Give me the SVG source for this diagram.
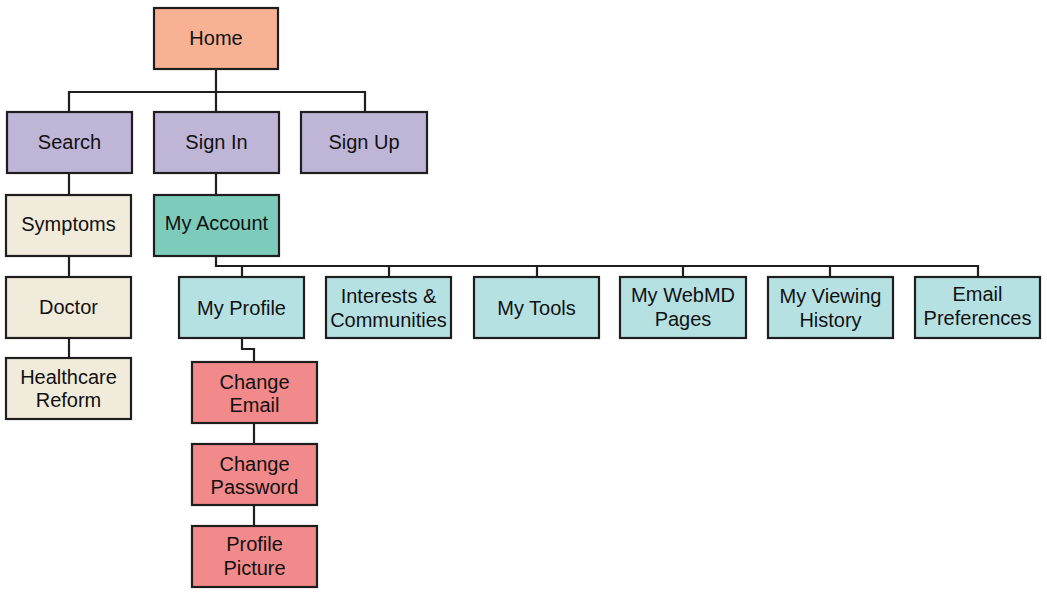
<svg xmlns="http://www.w3.org/2000/svg" width="1047" height="592" viewBox="0 0 1047 592">
<style>
rect{stroke:#1e1e1e;stroke-width:2.2}
text{font-family:"Liberation Sans",Arial,sans-serif;font-size:20px;fill:#111;text-anchor:middle}
.home{fill:#F7B294}.pur{fill:#BFB5D7}.acc{fill:#7CCBBB}.cre{fill:#F0EBDB}.cy{fill:#B6E1E3}.pk{fill:#F2898A}
#connectors path{fill:none;stroke:#1e1e1e;stroke-width:2.2}
</style>
<rect width="1047" height="592" fill="#fff" style="stroke:none"/>
<g id="connectors">
<path d="M216 69V92M69 112V92H365V112M216 92V112"/>
<path d="M216 173V195M69 173V195M69 256V277M69 338V358"/>
<path d="M216 256V266H978V277M242 266V277M389 266V277M537 266V277M683 266V277M830 266V277"/>
<path d="M242 339V349H254V362M254 423V444M254 505V526"/>
</g>
<g id="home"><rect class="home" x="154" y="8" width="124" height="61"/><text x="216" y="45">Home</text></g>
<g id="search"><rect class="pur" x="7" y="112" width="125" height="61"/><text x="69.5" y="149">Search</text></g>
<g id="signin"><rect class="pur" x="154" y="112" width="125" height="61"/><text x="216.5" y="149">Sign In</text></g>
<g id="signup"><rect class="pur" x="301" y="112" width="126" height="61"/><text x="364" y="149">Sign Up</text></g>
<g id="symptoms"><rect class="cre" x="6" y="195" width="125" height="61"/><text x="68.5" y="231">Symptoms</text></g>
<g id="myaccount"><rect class="acc" x="154" y="195" width="125" height="61"/><text x="216.5" y="230">My Account</text></g>
<g id="doctor"><rect class="cre" x="6" y="277" width="125" height="61"/><text x="68.5" y="314">Doctor</text></g>
<g id="healthcare"><rect class="cre" x="6" y="358" width="125" height="61"/><text x="68.5" y="384">Healthcare</text><text x="68.5" y="407">Reform</text></g>
<g id="myprofile"><rect class="cy" x="179" y="277" width="125" height="61"/><text x="241.5" y="315">My Profile</text></g>
<g id="interests"><rect class="cy" x="326" y="277" width="125" height="61"/><text x="388.5" y="303">Interests &amp;</text><text x="388.5" y="327">Communities</text></g>
<g id="mytools"><rect class="cy" x="474" y="277" width="125" height="61"/><text x="536.5" y="315">My Tools</text></g>
<g id="webmd"><rect class="cy" x="620" y="277" width="126" height="61"/><text x="683" y="302">My WebMD</text><text x="683" y="326">Pages</text></g>
<g id="viewing"><rect class="cy" x="768" y="277" width="125" height="61"/><text x="830.5" y="303">My Viewing</text><text x="830.5" y="327">History</text></g>
<g id="emailpref"><rect class="cy" x="915" y="277" width="125" height="61"/><text x="977.5" y="301">Email</text><text x="977.5" y="325">Preferences</text></g>
<g id="changeemail"><rect class="pk" x="192" y="362" width="125" height="61"/><text x="254.5" y="389">Change</text><text x="254.5" y="412">Email</text></g>
<g id="changepassword"><rect class="pk" x="192" y="444" width="125" height="61"/><text x="254.5" y="471">Change</text><text x="254.5" y="494">Password</text></g>
<g id="profilepicture"><rect class="pk" x="192" y="526" width="125" height="61"/><text x="254.5" y="551">Profile</text><text x="254.5" y="575">Picture</text></g>
</svg>
